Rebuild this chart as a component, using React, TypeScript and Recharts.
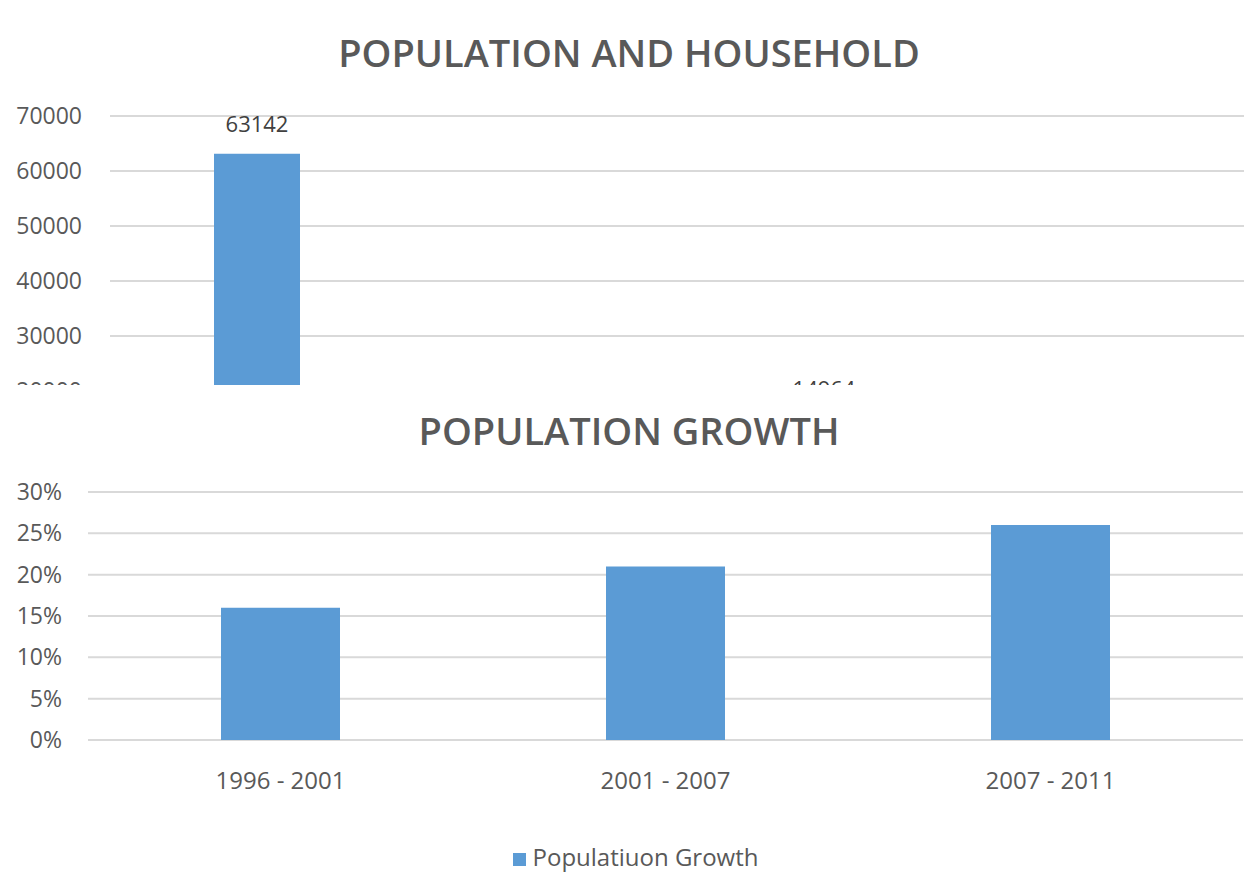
import React from 'react';
import { BarChart, Bar, XAxis, YAxis, CartesianGrid, Legend, LabelList } from 'recharts';

// top chart: only the upper part is visible in the source picture
const householdCategories = ['Population', 'Household'];
const householdSeriesA = [63142, 14964];
const householdSeriesB = [null, null];
const householdSeriesC = [null, null];
const householdSeriesD = [null, null];
const householdTicks = [0, 10000, 20000, 30000, 40000, 50000, 60000, 70000];

// bottom chart
const growthPeriods = ['1996 - 2001', '2001 - 2007', '2007 - 2011'];
const growthValues = [0.16, 0.21, 0.26];
const growthTicks = [0, 0.05, 0.1, 0.15, 0.2, 0.25, 0.3];

const householdData = householdCategories.map((c, i) => ({
  name: c,
  a: householdSeriesA[i],
  b: householdSeriesB[i],
  c: householdSeriesC[i],
  d: householdSeriesD[i],
}));

const growthData = growthPeriods.map((p, i) => ({ period: p, growth: growthValues[i] }));

const BLUE = '#5B9BD5';
const TEXT = '#595959';
const GRID = '#d9d9d9';
const FONT = '"Open Sans", sans-serif';

const titleStyle: React.CSSProperties = {
  position: 'absolute', left: 0, width: 1258, textAlign: 'center',
  fontSize: 38, fontWeight: 600, color: TEXT, lineHeight: '40px', fontFamily: FONT,
};

export default function App() {
  const yTick = { fontSize: 23, fill: TEXT, fontFamily: FONT };
  const xTick = { fontSize: 24, fill: TEXT, fontFamily: FONT };
  return (
    <div style={{ position: 'absolute', left: 0, top: 0, width: 1249, height: 873, background: '#fff', overflow: 'hidden', fontFamily: FONT }}>
      <div style={{ position: 'absolute', left: 0, top: 0, width: 1249, height: 385, overflow: 'hidden' }}>
        <div style={{ ...titleStyle, top: 32 }}>POPULATION AND HOUSEHOLD</div>
        <BarChart width={1249} height={560} data={householdData} margin={{ top: 116, right: 5, left: 0, bottom: 19 }} barGap={5}>
          <CartesianGrid vertical={false} stroke={GRID} strokeWidth={2} />
          <XAxis dataKey="name" height={40} axisLine={false} tickLine={false} tick={xTick} />
          <YAxis width={110} domain={[0, 70000]} ticks={householdTicks} axisLine={false} tickLine={false} tickMargin={22} tick={yTick} />
          <Bar dataKey="a" fill={BLUE} barSize={86} isAnimationActive={false}>
            <LabelList dataKey="a" position="top" offset={22} style={{ fontSize: 22, fill: '#404040', fontFamily: FONT }} />
          </Bar>
          <Bar dataKey="b" fill={BLUE} barSize={86} isAnimationActive={false} />
          <Bar dataKey="c" fill={BLUE} barSize={86} isAnimationActive={false} />
          <Bar dataKey="d" fill={BLUE} barSize={86} isAnimationActive={false} />
        </BarChart>
      </div>
      <div style={{ position: 'absolute', left: 0, top: 385, width: 1249, height: 488 }}>
        <div style={{ ...titleStyle, top: 25 }}>POPULATION GROWTH</div>
        <BarChart width={1249} height={488} data={growthData} margin={{ top: 107, right: 6, left: 0, bottom: 40 }}>
          <CartesianGrid vertical={false} stroke={GRID} strokeWidth={2} />
          <XAxis dataKey="period" height={60} axisLine={false} tickLine={false} tickMargin={26} tick={xTick} />
          <YAxis width={88} domain={[0, 0.3]} ticks={growthTicks} axisLine={false} tickLine={false} tickMargin={20}
            tick={yTick} tickFormatter={(v: number) => `${Math.round(v * 100)}%`} />
          <Legend verticalAlign="bottom" iconType="square" iconSize={13}
            wrapperStyle={{ bottom: 0, left: 19, fontSize: 24, fontFamily: FONT }}
            formatter={(value: string) => <span style={{ color: TEXT, marginLeft: 3 }}>{value}</span>} />
          <Bar dataKey="growth" name="Populatiuon Growth" fill={BLUE} barSize={119} isAnimationActive={false} />
        </BarChart>
      </div>
    </div>
  );
}
